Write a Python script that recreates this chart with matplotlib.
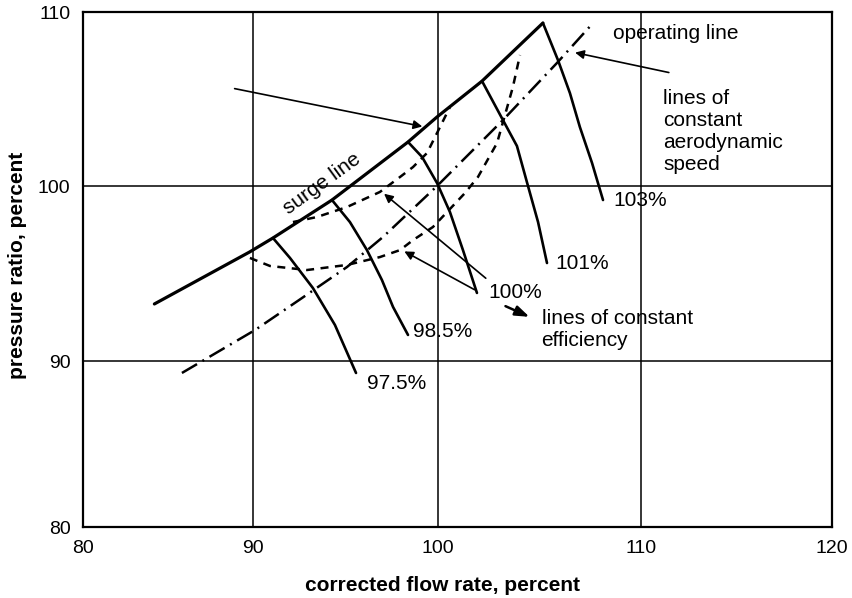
import matplotlib
matplotlib.use("Agg")
import matplotlib.pyplot as plt
import numpy as np

plt.rcParams['font.family'] = ['Liberation Sans', 'DejaVu Sans']

# surge line (flow %, pressure ratio %)
surge_x = [84.2, 89.8, 91.08, 94.27, 98.38, 99.95, 102.17, 105.17]
surge_y = [93.26, 96.23, 97.03, 99.2, 102.53, 103.97, 106.03, 109.37]

# lines of constant aerodynamic speed
speed_labels = ['97.5%', '98.5%', '100%', '101%', '103%']
speed_x = [
    [91.08, 92.0, 93.24, 94.43, 95.57],
    [94.27, 95.24, 96.16, 96.97, 97.57, 98.38],
    [98.38, 99.14, 99.95, 100.59, 101.23, 101.92],
    [102.17, 103.2, 103.89, 104.38, 104.93, 105.37],
    [105.17, 105.91, 106.5, 106.99, 107.59, 108.13],
]
speed_y = [
    [97.03, 95.89, 94.17, 92.06, 89.28],
    [99.2, 97.94, 96.34, 94.63, 93.09, 91.49],
    [102.53, 101.67, 100.17, 98.51, 96.34, 93.89],
    [106.03, 103.79, 102.3, 100.23, 97.94, 95.6],
    [109.37, 107.24, 105.34, 103.39, 101.32, 99.2],
]

# operating line
oper_x = [85.82, 90.11, 92.65, 95.08, 97.03, 99.95, 103.2, 105.86, 107.64]
oper_y = [89.28, 91.77, 93.6, 95.37, 97.09, 100.0, 103.79, 107.07, 109.37]

# lines of constant efficiency
eff_in_x = [92.16, 93.46, 95.08, 96.86, 97.95, 98.65, 99.41, 100.1, 100.59]
eff_in_y = [97.94, 98.23, 98.8, 99.66, 100.52, 101.09, 101.9, 103.39, 104.54]
eff_out_x = [89.82, 90.92, 92.92, 95.08, 96.86, 97.95, 98.65, 99.73, 101.33, 101.97, 102.91, 103.69, 104.04]
eff_out_y = [95.89, 95.43, 95.2, 95.49, 95.94, 96.34, 96.91, 97.66, 99.6, 100.52, 102.47, 105.69, 107.53]

x_ticks = [80, 90, 100, 110, 120]
y_ticks = [80, 90, 100, 110]

# the printed grid is not evenly spaced, so use a piecewise scale
x_grid_pos = [83, 253, 438, 641, 832]
y_grid_pos = [-527, -361, -186, -12]


def fx(v):
    return np.interp(v, x_ticks, x_grid_pos)


def fx_inv(v):
    return np.interp(v, x_grid_pos, x_ticks)


def fy(v):
    return np.interp(v, y_ticks, y_grid_pos)


def fy_inv(v):
    return np.interp(v, y_grid_pos, y_ticks)


fig = plt.figure(figsize=(8.52, 5.98), dpi=100)
ax = fig.add_axes([0.0974, 0.1187, 0.8791, 0.8612])

ax.set_xscale('function', functions=(fx, fx_inv))
ax.set_yscale('function', functions=(fy, fy_inv))
ax.set_xlim(80, 120)
ax.set_ylim(80, 110)
ax.set_xticks(x_ticks)
ax.set_yticks(y_ticks)
ax.set_xticklabels([str(t) for t in x_ticks])
ax.set_yticklabels([str(t) for t in y_ticks])
ax.minorticks_off()
ax.tick_params(length=0, labelsize=14, pad=9)
for s in ax.spines.values():
    s.set_linewidth(1.6)
ax.grid(True, color='black', lw=1.1)
ax.set_axisbelow(True)

ax.set_xlabel('corrected flow rate, percent', fontsize=15, fontweight='bold', va='center')
ax.xaxis.set_label_coords(0.48, -0.113)
ax.set_ylabel('pressure ratio, percent', fontsize=15, fontweight='bold', va='center')
ax.yaxis.set_label_coords(-0.087, 0.509)

ax.plot(surge_x, surge_y, color='black', lw=2.3, solid_capstyle='round')
for xs, ys in zip(speed_x, speed_y):
    ax.plot(xs, ys, color='black', lw=1.9, solid_capstyle='round')

ax.plot(oper_x, oper_y, color='black', lw=1.8, dashes=(7, 2.5, 0.8, 2.5))
ax.plot(eff_in_x, eff_in_y, color='black', lw=1.8, dashes=(3.2, 2.6))
ax.plot(eff_out_x, eff_out_y, color='black', lw=1.8, dashes=(3.2, 2.6))

# speed labels
label_pos = [(96.16, 88.67), (98.65, 91.66), (102.46, 93.89), (105.76, 95.6), (108.62, 99.2)]
for lab, (lx, ly) in zip(speed_labels, label_pos):
    ax.text(lx, ly, lab, fontsize=15, ha='left', va='center')

ax.text(93.73, 100.11, 'surge line', fontsize=15, rotation=36,
        ha='center', va='center', rotation_mode='anchor')
ax.text(108.62, 108.79, 'operating line', fontsize=15, ha='left', va='center')
ax.text(111.15, 105.6, 'lines of\nconstant\naerodynamic\nspeed', fontsize=15,
        ha='left', va='top', linespacing=1.22)
ax.text(105.1, 93.0, 'lines of constant\nefficiency', fontsize=15,
        ha='left', va='top', linespacing=1.22)

arrow = dict(arrowstyle='-|>', color='black', lw=1.2, mutation_scale=13)
ax.annotate('', xy=(99.3, 103.39), xytext=(88.76, 105.63), arrowprops=arrow)
ax.annotate('', xy=(106.62, 107.7), xytext=(111.6, 106.49), arrowprops=arrow)
ax.annotate('', xy=(96.97, 99.66), xytext=(102.46, 94.63), arrowprops=arrow)
ax.annotate('', xy=(98.05, 96.34), xytext=(101.92, 94.0), arrowprops=arrow)
ax.annotate('', xy=(104.63, 92.46), xytext=(103.2, 93.2),
            arrowprops=dict(arrowstyle='-|>,head_length=0.7,head_width=0.25',
                            color='black', lw=1.8, mutation_scale=12))

fig.savefig('out.png', dpi=100)
